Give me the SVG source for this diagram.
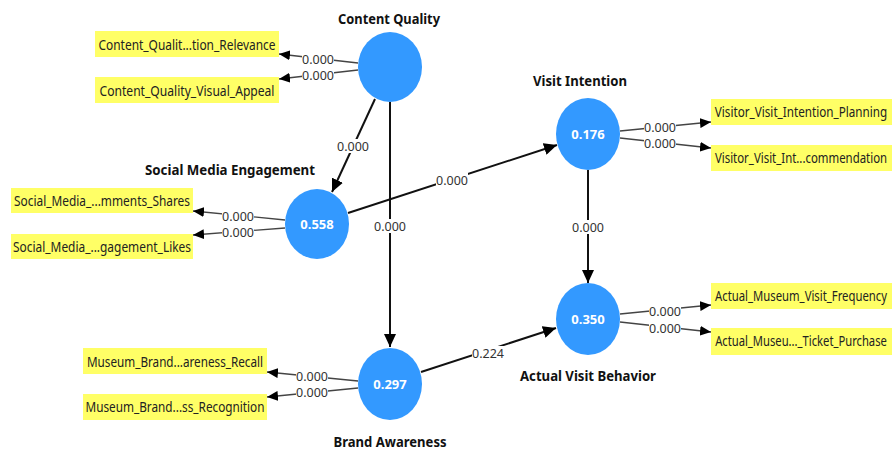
<svg xmlns="http://www.w3.org/2000/svg" width="892" height="452" viewBox="0 0 892 452">
<style>
.lv{fill:#3399ff}
.val{font-family:"Noto Sans","Open Sans",sans-serif;font-weight:bold;font-size:13px;fill:#fff;text-anchor:middle}
.ttl{font-family:"Noto Sans","Open Sans",sans-serif;font-weight:bold;font-size:14px;fill:#111;text-anchor:middle}
.box{fill:#ffff66}
.btx{font-family:"Noto Sans","Open Sans",sans-serif;font-size:14px;fill:#222;text-anchor:middle}
.st{stroke:#111;stroke-width:2;fill:none}
.ind{stroke:#444;stroke-width:1.3;fill:none}
.lbg{fill:#fff}
.lbl{font-family:"Noto Sans","Open Sans",sans-serif;font-size:12.5px;fill:#333;text-anchor:middle}
</style>
<defs>
<marker id="ah" markerUnits="userSpaceOnUse" markerWidth="14" markerHeight="12" refX="13" refY="6" orient="auto"><path d="M0,0 L13,6 L0,12 z" fill="#000"/></marker>
<marker id="ahs" markerUnits="userSpaceOnUse" markerWidth="12" markerHeight="10" refX="11" refY="5" orient="auto"><path d="M0,0 L11,5 L0,10 z" fill="#000"/></marker>
</defs>
<g id="connectors">
<line class="st" x1="375" y1="99" x2="332" y2="192" marker-end="url(#ah)"/>
<line class="st" x1="390" y1="102" x2="390" y2="347" marker-end="url(#ah)"/>
<line class="st" x1="348" y1="213" x2="557" y2="145" marker-end="url(#ah)"/>
<line class="st" x1="588" y1="170" x2="588" y2="283" marker-end="url(#ah)"/>
<line class="st" x1="421" y1="372" x2="556" y2="328" marker-end="url(#ah)"/>
<line class="ind" x1="358" y1="63" x2="279" y2="54" marker-end="url(#ahs)"/>
<line class="ind" x1="358" y1="70" x2="279" y2="79" marker-end="url(#ahs)"/>
<line class="ind" x1="285" y1="220" x2="193" y2="211" marker-end="url(#ahs)"/>
<line class="ind" x1="285" y1="228" x2="193" y2="235" marker-end="url(#ahs)"/>
<line class="ind" x1="620" y1="131" x2="711" y2="122" marker-end="url(#ahs)"/>
<line class="ind" x1="620" y1="138" x2="711" y2="148" marker-end="url(#ahs)"/>
<line class="ind" x1="620" y1="314" x2="711" y2="305" marker-end="url(#ahs)"/>
<line class="ind" x1="620" y1="322" x2="711" y2="332" marker-end="url(#ahs)"/>
<line class="ind" x1="358" y1="381" x2="267" y2="372" marker-end="url(#ahs)"/>
<line class="ind" x1="358" y1="388" x2="267" y2="397" marker-end="url(#ahs)"/>
<g id="edge-labels">
<rect class="lbg" x="337" y="139" width="32" height="14"/><text class="lbl" x="353" y="150.5">0.000</text>
<rect class="lbg" x="374" y="219" width="32" height="14"/><text class="lbl" x="390" y="230.5">0.000</text>
<rect class="lbg" x="436" y="173" width="32" height="14"/><text class="lbl" x="452" y="184.5">0.000</text>
<rect class="lbg" x="572" y="220" width="32" height="14"/><text class="lbl" x="588" y="231.5">0.000</text>
<rect class="lbg" x="472" y="346" width="32" height="14"/><text class="lbl" x="488" y="357.5">0.224</text>
<rect class="lbg" x="302" y="53" width="32" height="13"/><text class="lbl" x="318" y="64">0.000</text>
<rect class="lbg" x="302" y="69" width="32" height="12"/><text class="lbl" x="318" y="79.5">0.000</text>
<rect class="lbg" x="222" y="210" width="32" height="13"/><text class="lbl" x="238" y="221">0.000</text>
<rect class="lbg" x="222" y="226" width="32" height="12"/><text class="lbl" x="238" y="237">0.000</text>
<rect class="lbg" x="644" y="121" width="32" height="13"/><text class="lbl" x="660" y="132">0.000</text>
<rect class="lbg" x="644" y="137" width="32" height="12"/><text class="lbl" x="660" y="147.5">0.000</text>
<rect class="lbg" x="649" y="305" width="32" height="13"/><text class="lbl" x="665" y="315.5">0.000</text>
<rect class="lbg" x="649" y="322" width="32" height="12"/><text class="lbl" x="665" y="332.5">0.000</text>
<rect class="lbg" x="296" y="370" width="32" height="13"/><text class="lbl" x="312" y="381">0.000</text>
<rect class="lbg" x="296" y="386" width="32" height="12"/><text class="lbl" x="312" y="396.5">0.000</text>
</g>
</g>
<g id="content-quality">
<ellipse class="lv" cx="390" cy="67" rx="32" ry="35"/>
<text class="ttl" x="389" y="24" textLength="102" lengthAdjust="spacingAndGlyphs">Content Quality</text>
</g>
<g id="social-media-engagement">
<ellipse class="lv" cx="317" cy="224" rx="32" ry="35"/>
<text class="val" x="317" y="229">0.558</text>
<text class="ttl" x="230" y="175" textLength="170" lengthAdjust="spacingAndGlyphs">Social Media Engagement</text>
</g>
<g id="visit-intention">
<ellipse class="lv" cx="588" cy="134" rx="32" ry="36"/>
<text class="val" x="588" y="139">0.176</text>
<text class="ttl" x="580" y="86" textLength="94" lengthAdjust="spacingAndGlyphs">Visit Intention</text>
</g>
<g id="actual-visit-behavior">
<ellipse class="lv" cx="588" cy="319" rx="32" ry="36"/>
<text class="val" x="588" y="324">0.350</text>
<text class="ttl" x="588" y="381" textLength="136" lengthAdjust="spacingAndGlyphs">Actual Visit Behavior</text>
</g>
<g id="brand-awareness">
<ellipse class="lv" cx="390" cy="384" rx="32" ry="36"/>
<text class="val" x="390" y="389">0.297</text>
<text class="ttl" x="390" y="447" textLength="113" lengthAdjust="spacingAndGlyphs">Brand Awareness</text>
</g>
<g id="ind-cq-relevance"><rect class="box" x="95" y="31" width="184" height="26"/><text class="btx" x="187" y="49.5" textLength="177" lengthAdjust="spacingAndGlyphs">Content_Qualit...tion_Relevance</text></g>
<g id="ind-cq-visual"><rect class="box" x="95" y="77" width="184" height="26"/><text class="btx" x="187" y="95.5" textLength="175" lengthAdjust="spacingAndGlyphs">Content_Quality_Visual_Appeal</text></g>
<g id="ind-sm-shares"><rect class="box" x="11" y="188" width="182" height="25"/><text class="btx" x="102" y="206" textLength="176" lengthAdjust="spacingAndGlyphs">Social_Media_...mments_Shares</text></g>
<g id="ind-sm-likes"><rect class="box" x="11" y="234" width="182" height="25"/><text class="btx" x="102" y="252" textLength="178" lengthAdjust="spacingAndGlyphs">Social_Media_...gagement_Likes</text></g>
<g id="ind-vi-planning"><rect class="box" x="711" y="99" width="181" height="26"/><text class="btx" transform="translate(801,117) scale(0.845,1)" x="0" y="0" textLength="204" lengthAdjust="spacingAndGlyphs">Visitor_Visit_Intention_Planning</text></g>
<g id="ind-vi-recommendation"><rect class="box" x="711" y="145" width="181" height="26"/><text class="btx" transform="translate(801,163) scale(0.82,1)" x="0" y="0" textLength="210" lengthAdjust="spacingAndGlyphs">Visitor_Visit_Int...commendation</text></g>
<g id="ind-avb-frequency"><rect class="box" x="711" y="283" width="181" height="26"/><text class="btx" transform="translate(801,300.5) scale(0.8,1)" x="0" y="0" textLength="215" lengthAdjust="spacingAndGlyphs">Actual_Museum_Visit_Frequency</text></g>
<g id="ind-avb-ticket"><rect class="box" x="711" y="328" width="181" height="27"/><text class="btx" transform="translate(801,346) scale(0.795,1)" x="0" y="0" textLength="216" lengthAdjust="spacingAndGlyphs">Actual_Museu..._Ticket_Purchase</text></g>
<g id="ind-ba-recall"><rect class="box" x="83" y="348" width="184" height="26"/><text class="btx" x="175" y="366.5" textLength="176" lengthAdjust="spacingAndGlyphs">Museum_Brand...areness_Recall</text></g>
<g id="ind-ba-recognition"><rect class="box" x="83" y="394" width="184" height="26"/><text class="btx" x="175" y="412" textLength="179" lengthAdjust="spacingAndGlyphs">Museum_Brand...ss_Recognition</text></g>
</svg>
